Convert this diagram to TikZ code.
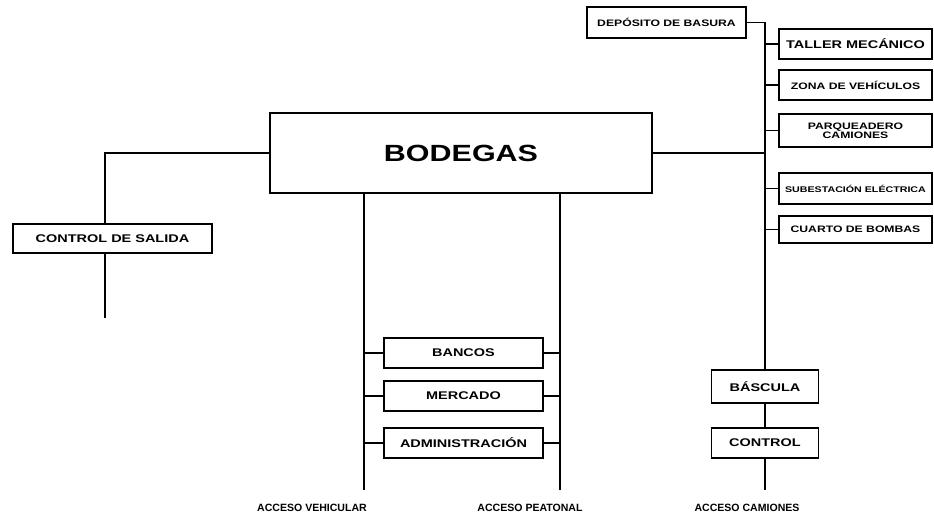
\documentclass[tikz,border=0pt]{standalone}
\usepackage{fontspec}
\setmainfont{Liberation Sans}
\newfontfamily\ancha[FakeStretch=1.3]{Liberation Sans}
\usetikzlibrary{positioning,calc}

\begin{document}
\begin{tikzpicture}[
  x=0.03cm, y=-0.03cm,
  font=\ancha\bfseries\fontsize{8}{8.5}\selectfont,
  caja/.style={draw, rectangle, align=center, line width=1.3pt,
    inner sep=0pt, outer sep=0pt, minimum width=4.59cm, minimum height=0.9cm},
  cajac/.style={caja, minimum width=4.77cm},
  grande/.style={font=\ancha\bfseries\fontsize{9.5}{10}\selectfont},
  linea/.style={line width=1.2pt},
  acceso/.style={font=\bfseries\fontsize{9}{9.5}\selectfont}]
\useasboundingbox (0,0) rectangle (934,522);
% Bloque central
\node[caja, minimum width=11.46cm, minimum height=2.4cm,
  font=\ancha\bfseries\fontsize{20}{22}\selectfont] (bod) at (461,153) {BODEGAS};
% Columna derecha
\node[cajac, minimum height=0.93cm] (dep) at (666.5,22.5) {DEP\'OSITO DE BASURA};
\node[caja, grande] (taller) at (855.5,44) {TALLER MEC\'ANICO};
\node[caja] (zona) at (855.5,85) {ZONA DE VEH\'ICULOS};
\node[caja, minimum height=0.99cm, font=\ancha\bfseries\fontsize{8}{8}\selectfont]
  (parq) at (855.5,130.5) {PARQUEADERO\\CAMIONES};
\node[caja, minimum height=0.93cm, font=\ancha\bfseries\fontsize{7}{7.5}\selectfont]
  (subest) at (855.5,188.5) {SUBESTACI\'ON EL\'ECTRICA};
\node[caja, minimum height=0.81cm] (cuarto) at (855.5,229.5) {CUARTO DE BOMBAS};
\node[caja, grande, minimum width=3.21cm, minimum height=0.99cm] (bas) at (765,386.5) {B\'ASCULA};
\node[caja, grande, minimum width=3.21cm] (ctrl) at (765,443) {CONTROL};
% Columna izquierda
\node[caja, grande, minimum width=5.97cm, minimum height=0.87cm] (csal) at (112.5,238.5) {CONTROL DE SALIDA};
% Bloques inferiores
\node[cajac, grande] (bancos) at (463.5,353) {BANCOS};
\node[cajac, grande] (merc) at (463.5,396) {MERCADO};
\node[cajac, grande] (adm) at (463.5,443) {ADMINISTRACI\'ON};
% Extremos de los accesos
\coordinate (sal) at (105,318);
\coordinate (veh) at (364,490);
\coordinate (pea) at (560,490);
\coordinate (cam) at (765,490);
% Troncal derecho
\draw[linea] (dep.east) -| (bas.north);
\draw[linea] (bod.east) -- (bod.east -| bas.north);
\foreach \n in {taller,zona,parq,subest,cuarto}
  \draw[linea] (\n.west) -- (\n.west -| bas.north);
\draw[linea] (bas.south) -- (ctrl.north);
\draw[linea] (ctrl.south) -- (cam);
% Salida
\draw[linea] (bod.west) -| (csal.north -| sal);
\draw[linea] (csal.south -| sal) -- (sal);
% Accesos vehicular y peatonal
\draw[linea] (bod.south -| veh) -- (veh);
\draw[linea] (bod.south -| pea) -- (pea);
\foreach \n in {bancos,merc,adm}{
  \draw[linea] (\n.west) -- (\n.west -| veh);
  \draw[linea] (\n.east) -- (\n.east -| pea);
}
% Rotulos
\node[acceso] (lveh) at (312,508) {ACCESO VEHICULAR};
\node[acceso] (lpea) at (530,508) {ACCESO PEATONAL};
\node[acceso] (lcam) at (747,508) {ACCESO CAMIONES};
\end{tikzpicture}
\end{document}
